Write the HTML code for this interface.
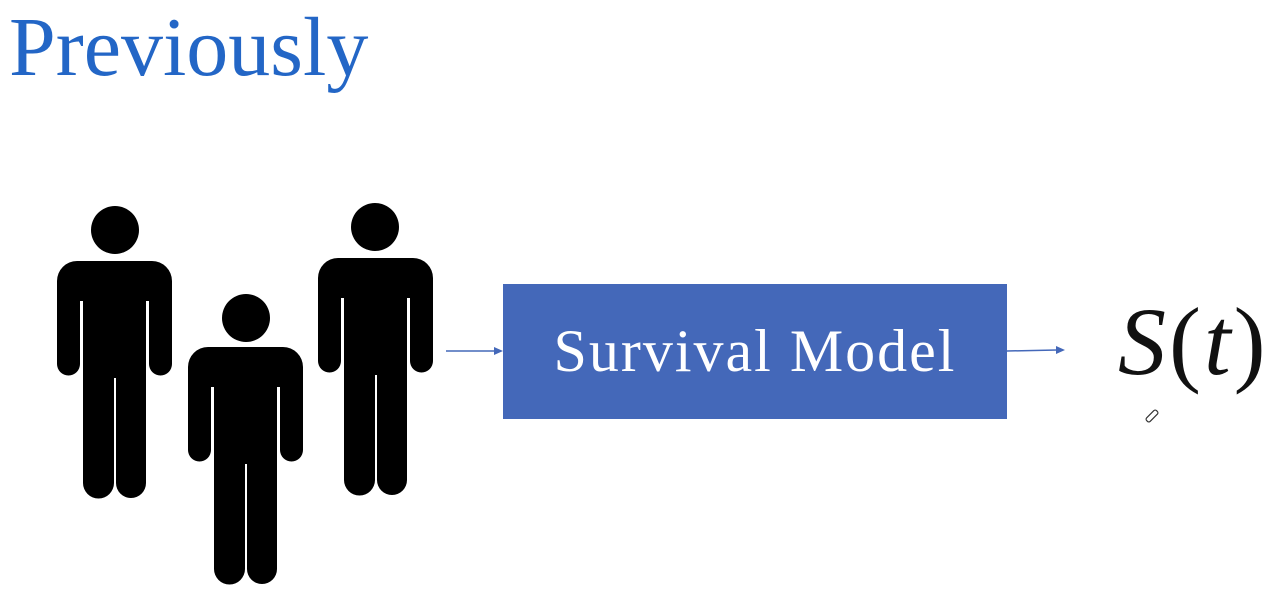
<!DOCTYPE html>
<html><head><style>
body{margin:0;background:#fff;width:1287px;height:601px;overflow:hidden;position:relative;font-family:"Liberation Serif",serif}
.t{position:absolute;left:9px;top:6px;font-size:84px;color:#2366c6;line-height:1}
.box{position:absolute;left:503px;top:284px;width:504px;height:135px;background:#4468b9;color:#fff;font-size:60px;letter-spacing:2px;display:flex;align-items:center;justify-content:center}
.s{position:absolute;left:1118px;top:294px;font-size:96px;letter-spacing:3px;line-height:1;color:#111}
</style></head><body>
<div class="t">Previously</div>
<svg width="1287" height="601" style="position:absolute;left:0;top:0">
<defs>
<g id="p">
<path d="M20,0 H95 A20,20 0 0 1 115,20 V103 A11.5,11.5 0 0 1 92,103 V40 H89 V222 A15,15 0 0 1 59,222 V117 H57 V222 A15,15 0 0 1 26,222 V40 H23 V103 A11.5,11.5 0 0 1 0,103 V20 A20,20 0 0 1 20,0 Z" fill="#000"/>
</g>
</defs>
<g transform="translate(57,261)"><use href="#p"/><circle cx="58" cy="-31" r="24"/></g>
<g transform="translate(188,347)"><use href="#p"/><circle cx="58" cy="-29" r="24"/></g>
<g transform="translate(318,258)"><use href="#p"/><circle cx="57" cy="-31" r="24"/></g>
<line x1="446" y1="351" x2="496" y2="351" stroke="#4468b9" stroke-width="1.5"/>
<polygon points="503,351 494,347 494,355" fill="#4468b9"/>
<line x1="1007" y1="351" x2="1057" y2="350" stroke="#4468b9" stroke-width="1.5"/>
<polygon points="1065,350 1056,346 1056,354" fill="#4468b9"/>
<g transform="translate(1152,416) rotate(-45)"><rect x="-7" y="-2.5" width="14" height="5" rx="2" fill="none" stroke="#333" stroke-width="1.2"/></g>
</svg>
<div class="box">Survival Model</div>
<div class="s"><i>S</i>(<i>t</i>)</div>
</body></html>
